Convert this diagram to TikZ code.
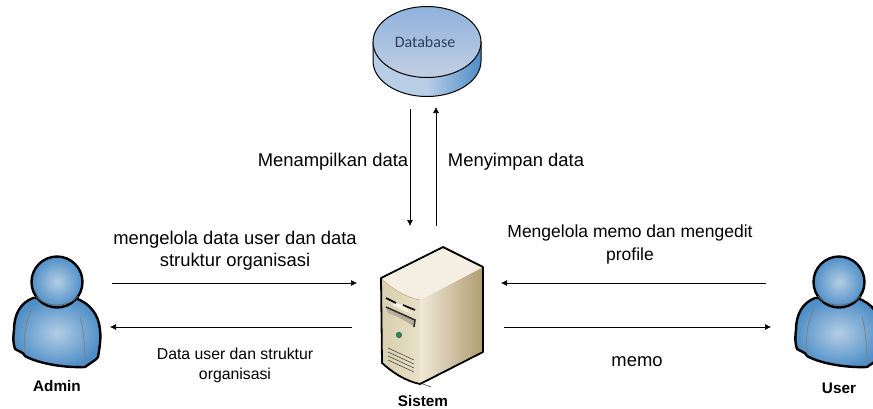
\documentclass[tikz,border=0pt]{standalone}
\usepackage{fontspec}
\setmainfont{Liberation Sans}
\newfontfamily\dbfont{Carlito}
\usepackage{xcolor}
\usetikzlibrary{arrows.meta,positioning,calc}
\definecolor{userblue}{HTML}{4F8FC8}
\definecolor{userlight}{HTML}{B4CDE3}
\definecolor{dbtop}{HTML}{8FB2DC}
\definecolor{dbtoplow}{HTML}{C2CFE2}
\definecolor{dbside}{HTML}{B8CDE6}
\definecolor{dbsidedark}{HTML}{4D8DC8}
\definecolor{dbtext}{HTML}{2E3C60}
\definecolor{casefront}{HTML}{E8E0C6}
\definecolor{casefrontlow}{HTML}{D9CFAE}
\definecolor{casetop}{HTML}{F4EFE2}
\definecolor{casesidelight}{HTML}{F0E9D8}
\definecolor{casesidemid}{HTML}{DBCFB0}
\definecolor{caseside}{HTML}{B09C70}
\tikzset{
    flow/.style={-{Latex[length=6pt,width=6pt]},semithick},
    label/.style={align=center,font=\fontsize{18.4}{22}\selectfont},
    smalllabel/.style={align=center,font=\fontsize{15.8}{20}\selectfont},
    iconlabel/.style={font=\fontsize{15.3}{17}\selectfont\bfseries},
    person/.pic={
        % Body
        \draw [line width=2.4pt,join=round,shading=radial,inner color=userlight,outer color=userblue]
            (33,298) .. controls (20,303) and (14,315) .. (14,330)
            .. controls (13,338) and (13,343) .. (15,349)
            .. controls (20,352) and (23,352) .. (25,356)
            .. controls (35,362) and (60,368) .. (85,367)
            .. controls (92,362) and (96,360) .. (98,357)
            .. controls (100,345) and (101,338) .. (100,330)
            .. controls (99,315) and (90,303) .. (75,298)
            -- cycle;
        \draw [gray,thick] (32,309) .. controls (26,320) and (23,338) .. (25,353);
        \draw [gray,thick] (80,317) .. controls (84,330) and (85,350) .. (85,365);
        % Head
        \draw [line width=2.4pt,shading=radial,inner color=userlight,outer color=userblue]
            (57,282) circle [radius=25.5];
        \draw [gray!80!black,thick] (36,296) .. controls (45,308) and (69,308) .. (78,296);
    }
}
\begin{document}
\begin{tikzpicture}[x=1pt,y=-1pt]
    \clip (0,0) rectangle (873,408);

    % Database
    \draw [line width=1pt,left color=dbside,right color=dbsidedark,middle color=dbside]
        (373,42) -- (373,61) arc [x radius=54,y radius=35.5,start angle=180,end angle=0]
        -- (481,42) -- cycle;
    \draw [line width=1pt,top color=dbtop,bottom color=dbtoplow]
        (427,42) ellipse [x radius=54,y radius=35.5];
    \node (database) [text=dbtext,font=\dbfont\fontsize{16}{18}\selectfont] at (425,42) {Database};

    % Server
    \shade [left color=casefrontlow,right color=casefront]
        (381,278) -- (382,363) .. controls (392,372) and (405,381) .. (420,384)
        -- (420,300) .. controls (405,297) and (392,289) .. (381,278) -- cycle;
    \shade [left color=casesidelight,middle color=casesidemid,right color=caseside]
        (420,300) -- (420,384) -- (483,352) -- (483,267) -- cycle;
    \fill [casetop] (381,278) -- (443,247) -- (483,267) -- (420,300)
        .. controls (405,297) and (392,289) .. (381,278) -- cycle;
    \draw [brown!70,semithick] (381,278) .. controls (392,289) and (405,297) .. (420,300);
    \draw [line width=1.8pt,line join=round]
        (420,384) .. controls (405,381) and (392,372) .. (382,363) -- (381,278)
        -- (443,247) -- (483,267) -- (483,352) -- cycle;
    \fill [casetop!80!white] (396,303) -- (403,305) -- (412,314) -- (392,305) -- cycle;
    \draw [line width=1.6pt] (386,298) -- (396,303);
    \draw [line width=1.6pt] (403,305) -- (415,310);
    \fill [casefrontlow!60!gray] (386,307) -- (415,320) -- (414,327) .. controls (405,320) and (396,316) .. (388,313) -- cycle;
    \draw [black!80,line width=1.6pt] (386,307) -- (415,320) -- (414,327);
    \fill [teal!70!green,draw=black!70,thick] (399,335) circle [radius=2.6];
    \foreach \rowy in {0,4,8,12}
        \draw [black!70,semithick] (388,348+\rowy) -- (414,360+\rowy);
    \draw (423,384) -- (431,387);

    % Actors
    \pic at (0,0) {person};
    \pic at (782,0) {person};
    \node (admin) [iconlabel] at (57,386) {Admin};
    \node (user) [iconlabel] at (839,388) {User};
    \node (sistem) [iconlabel] at (423,401) {Sistem};

    % Arrow ends
    \coordinate (dbdownA) at (410,109);
    \coordinate (dbdownB) at (410,226);
    \coordinate (dbupA) at (436,226);
    \coordinate (dbupB) at (436,107);
    \coordinate (adminA) at (112,283);
    \coordinate (adminB) at (357,283);
    \coordinate (adminC) at (352,327);
    \coordinate (adminD) at (110,327);
    \coordinate (userA) at (766,283);
    \coordinate (userB) at (501,283);
    \coordinate (userC) at (504,327);
    \coordinate (userD) at (771,327);

    % Flows
    \draw [flow] (dbdownA) -- (dbdownB);
    \draw [flow] (dbupA) -- (dbupB);
    \draw [flow] (adminA) -- (adminB);
    \draw [flow] (adminC) -- (adminD);
    \draw [flow] (userA) -- (userB);
    \draw [flow] (userC) -- (userD);

    % Labels
    \node (tampil) [label] at (333,162) {Menampilkan data};
    \node (simpan) [label] at (516,162) {Menyimpan data};
    \node (kelolaadmin) [label] at (235,251) {mengelola data user dan data\\struktur organisasi};
    \node (kelolauser) [label,font=\fontsize{17.5}{23}\selectfont] at (630,244) {Mengelola memo dan mengedit\\profile};
    \node (datauser) [smalllabel] at (235,365) {Data user dan struktur\\organisasi};
    \node (memo) [label] at (637,362) {memo};
\end{tikzpicture}
\end{document}
